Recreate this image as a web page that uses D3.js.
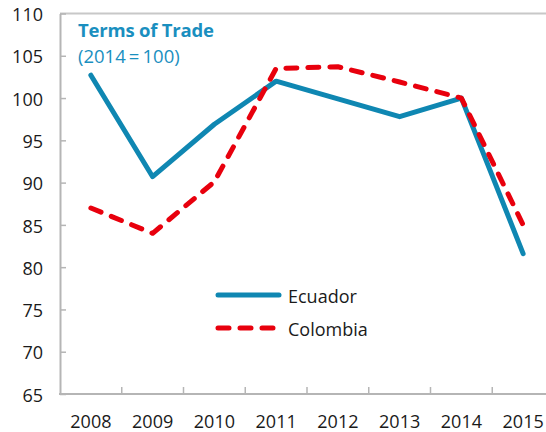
<!DOCTYPE html>
<html>
<head>
<meta charset="utf-8">
<script src="https://cdn.jsdelivr.net/npm/d3@7"></script>
<style>
  html, body { margin: 0; padding: 0; background: #fff; }
  svg { display: block; font-family: "Open Sans", "Noto Sans", sans-serif; }
</style>
</head>
<body>
<div id="chart"></div>
<script>
// Data
// -------------------
let years = ["2008", "2009", "2010", "2011", "2012", "2013", "2014", "2015"];
let ecuador_vals = [102.7, 90.7, 96.9, 102.0, 99.9, 97.8, 100.0, 81.6];
let colombia_vals = [87.0, 84.0, 90.1, 103.5, 103.7, 101.9, 100.0, 85.0];
let y_ticks = [65, 70, 75, 80, 85, 90, 95, 100, 105, 110];
let series_names = ["Ecuador", "Colombia"];
// -------------------

let width = 546;
let height = 432;
let plot_x0 = 60;
let plot_x1 = 554;
let plot_y0 = 13.5;
let plot_y1 = 394;

let axis_col = "#b5b5b5";
let ecu_col = "#0f87b2";
let col_col = "#e8000d";
let title_col = "#1a8fbf";

let svg_obj = d3.select("#chart")
                .append("svg")
                  .attr("width", width)
                  .attr("height", height)
                  .attr("xmlns", "http://www.w3.org/2000/svg");

let x = d3.scaleBand().domain(years).range([plot_x0, plot_x1]);
let y = d3.scaleLinear().domain([65, 110]).range([plot_y1, plot_y0]);

// Frame top line
svg_obj.append("line")
   .attr("x1", plot_x0).attr("x2", width)
   .attr("y1", plot_y0).attr("y2", plot_y0)
   .attr("stroke", "#c8c8c8")
   .attr("stroke-width", 2);

// Y axis
let y_axis = svg_obj.append("g")
   .attr("transform", "translate(" + plot_x0 + ",0)")
   .call(d3.axisLeft(y).tickValues(y_ticks).tickSize(-6).tickPadding(17).tickSizeOuter(0));
y_axis.select(".domain").attr("stroke", axis_col).attr("stroke-width", 2);
y_axis.selectAll(".tick line").attr("stroke", axis_col).attr("stroke-width", 1.5);
y_axis.selectAll(".tick text")
   .attr("font-size", 18)
   .attr("font-family", "Open Sans, sans-serif")
   .attr("fill", "#1a1a1a")
   .attr("dy", "0.4em");

// X axis
let x_axis = svg_obj.append("g")
   .attr("transform", "translate(0," + plot_y1 + ")")
   .call(d3.axisBottom(x).tickSize(0).tickPadding(21).tickSizeOuter(0));
x_axis.select(".domain").remove();
x_axis.selectAll(".tick text")
   .attr("font-size", 18)
   .attr("font-family", "Open Sans, sans-serif")
   .attr("fill", "#1a1a1a");

svg_obj.append("line")
   .attr("x1", plot_x0 - 1).attr("x2", width)
   .attr("y1", plot_y1).attr("y2", plot_y1)
   .attr("stroke", axis_col)
   .attr("stroke-width", 2);

// boundary ticks between years
svg_obj.append("g")
   .selectAll("line")
   .data(years.slice(1))
   .join("line")
     .attr("x1", d => x(d)).attr("x2", d => x(d))
     .attr("y1", plot_y1).attr("y2", plot_y1 - 7)
     .attr("stroke", axis_col)
     .attr("stroke-width", 1.5);

// Lines
// -------------------
let line_gen = d3.line()
   .x((d, i) => x(years[i]) + x.bandwidth() / 2)
   .y(d => y(d));

svg_obj.append("path")
   .attr("d", line_gen(ecuador_vals))
   .attr("fill", "none")
   .attr("stroke", ecu_col)
   .attr("stroke-width", 5)
   .attr("stroke-linejoin", "round")
   .attr("stroke-linecap", "round");

svg_obj.append("path")
   .attr("d", line_gen(colombia_vals))
   .attr("fill", "none")
   .attr("stroke", col_col)
   .attr("stroke-width", 5)
   .attr("stroke-dasharray", "11,11")
   .attr("stroke-linejoin", "round")
   .attr("stroke-linecap", "round");
// -------------------

// Title
// -------------------
svg_obj.append("text")
   .attr("x", 78).attr("y", 37)
   .attr("font-size", 18.5)
   .attr("font-weight", "bold")
   .attr("letter-spacing", -0.2)
   .attr("fill", title_col)
   .text("Terms of Trade");

svg_obj.append("text")
   .attr("x", 78).attr("y", 63)
   .attr("font-size", 18.5)
   .attr("fill", title_col)
   .text("(2014\u2009=\u2009100)");
// -------------------

// Legend
// -------------------
let legend_rows = [
   { name: series_names[0], col: ecu_col, dash: null, y: 295 },
   { name: series_names[1], col: col_col, dash: "11,11", y: 328 }
];
let leg = svg_obj.append("g")
   .selectAll("g")
   .data(legend_rows)
   .join("g");
leg.append("line")
   .attr("x1", 218).attr("x2", 279)
   .attr("y1", d => d.y).attr("y2", d => d.y)
   .attr("stroke", d => d.col)
   .attr("stroke-width", 5)
   .attr("stroke-linecap", "round")
   .attr("stroke-dasharray", d => d.dash);
leg.append("text")
   .attr("x", 288)
   .attr("y", d => d.y + 8)
   .attr("font-size", 18)
   .attr("fill", "#1a1a1a")
   .text(d => d.name);
// -------------------
</script>
</body>
</html>
